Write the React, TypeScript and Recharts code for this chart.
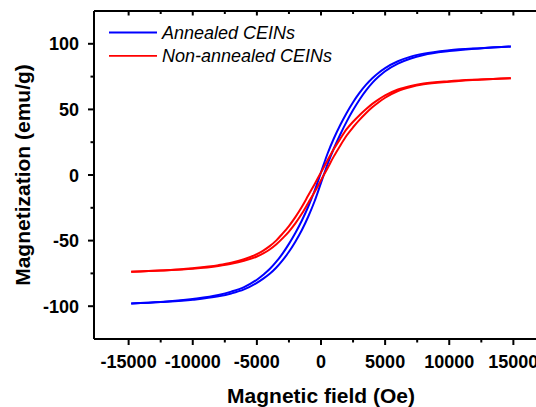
import React from 'react';
import { LineChart, Line, XAxis, YAxis, Legend } from 'recharts';

const fieldOe = [-14800, -12500, -10000, -8000, -7000, -6000, -5000, -4500, -4000, -3500, -3000, -2500, -2000, -1500, -1000, -500, 0, 500, 1000, 1500, 2000, 2500, 3000, 3500, 4000, 4500, 5000, 6000, 7000, 8000, 10000, 12500, 14800];

// descending branch (upper) and ascending branch (lower) of each loop, emu/g
const annealedUpper = [-97.9, -96.8, -94.5, -91.5, -88.9, -85.4, -79.8, -76, -71.7, -66.3, -59.9, -52.5, -44.2, -34.9, -24.2, -12, 2, 16, 27.8, 38.1, 47.3, 55.5, 62.6, 68.7, 73.8, 78, 81.5, 86.7, 90.2, 92.5, 95.1, 96.7, 97.9];
const annealedLower = [-97.9, -96.8, -95.1, -92.5, -90.3, -87.2, -82.2, -79, -75.3, -70.7, -65.1, -58.5, -50.8, -42.1, -31.8, -20, -6, 8, 20.2, 30.9, 40.7, 49.5, 57.4, 64.3, 70.2, 75, 79.1, 84.9, 88.8, 91.5, 94.5, 96.7, 97.9];
const nonAnnealedUpper = [-73.8, -72.8, -71.0, -68.7, -66.9, -64.2, -60.3, -57.6, -54.2, -50, -44.7, -38.9, -32.1, -24.4, -15.7, -7, 2, 11, 19.8, 27.6, 34.9, 40.6, 45.6, 50.1, 54.2, 57.7, 60.7, 65.2, 67.9, 69.7, 71.5, 72.8, 73.8];
const nonAnnealedLower = [-73.8, -72.8, -71.4, -69.3, -67.7, -65.4, -62.1, -59.8, -56.8, -53, -48.3, -43.1, -36.9, -29.6, -21.3, -13, -4, 5, 14.2, 22.4, 30.1, 36.4, 42, 47.1, 51.6, 55.5, 58.9, 64, 67.1, 69.1, 71.1, 72.8, 73.8];

const seriesNames = ['Annealed CEINs', 'Non-annealed CEINs'];
const seriesColors = ['#0000FF', '#FF0000'];

const xTicks = [-15000, -12500, -10000, -7500, -5000, -2500, 0, 2500, 5000, 7500, 10000, 12500, 15000];
const xMajorStep = 5000;
const yTicks = [-100, -75, -50, -25, 0, 25, 50, 75, 100];
const yMajorStep = 50;
const xDomain = [-17700, 17700];
const yDomain = [-125, 125];
const xTitle = 'Magnetic field (Oe)';
const yTitle = 'Magnetization (emu/g)';

const FONT = '"Liberation Sans", Arial, Helvetica, sans-serif';

const toPoints = (vals: number[]) => fieldOe.map((h, i) => ({ h, m: vals[i] }));

const XTickBottom = (props: any) => {
  const { x, y, payload } = props;
  const major = payload.value % xMajorStep === 0;
  return (
    <g>
      <line x1={x} x2={x} y1={y} y2={y + (major ? 6 : 3.5)} stroke="#000" strokeWidth={2} />
      {major && (
        <text x={x} y={y + 29} textAnchor="middle" fontFamily={FONT} fontWeight="bold" fontSize={18} fill="#000">
          {payload.value}
        </text>
      )}
    </g>
  );
};

const XTickTop = (props: any) => {
  const { x, y, payload } = props;
  const major = payload.value % xMajorStep === 0;
  return <line x1={x} x2={x} y1={y} y2={y + (major ? 4.5 : 3)} stroke="#000" strokeWidth={2} />;
};

const YTickLeft = (props: any) => {
  const { x, y, payload } = props;
  const major = payload.value % yMajorStep === 0;
  return (
    <g>
      <line x1={x} x2={x - (major ? 6 : 3.5)} y1={y} y2={y} stroke="#000" strokeWidth={2} />
      {major && (
        <text x={x - 15} y={y + 6.5} textAnchor="end" fontFamily={FONT} fontWeight="bold" fontSize={18} fill="#000">
          {payload.value}
        </text>
      )}
    </g>
  );
};

const XTitle = (props: any) => {
  const vb = props.viewBox || { x: 94, y: 339, width: 454, height: 68 };
  return (
    <text x={vb.x + vb.width / 2} y={vb.y + 64} textAnchor="middle" fontFamily={FONT} fontWeight="bold" fontSize={21} fill="#000">
      {xTitle}
    </text>
  );
};

const YTitle = (props: any) => {
  const vb = props.viewBox || { x: 0, y: 11, width: 94, height: 328 };
  const cx = 30;
  const cy = vb.y + vb.height / 2;
  return (
    <text x={cx} y={cy} transform={`rotate(-90 ${cx} ${cy})`} textAnchor="middle" fontFamily={FONT} fontWeight="bold" fontSize={21} fill="#000">
      {yTitle}
    </text>
  );
};

const LegendBox = () => (
  <svg width={420} height={70} style={{ display: 'block' }}>
    {seriesNames.map((name, i) => {
      const cy = 32.5 + i * 23.3;
      return (
        <g key={name}>
          <line x1={109} x2={157} y1={cy} y2={cy} stroke={seriesColors[i]} strokeWidth={1.8} />
          <text x={162} y={cy + 6.5} fontFamily={FONT} fontStyle="italic" fontSize={18} fill="#000">
            {name}
          </text>
        </g>
      );
    })}
  </svg>
);

export default function App() {
  return (
    <div style={{ position: 'absolute', left: 0, top: 0, width: 536, height: 407, overflow: 'hidden', background: '#fff' }}>
      <LineChart width={560} height={407} margin={{ top: 0, right: 12, bottom: 0, left: 0 }}>
        <XAxis
          type="number"
          dataKey="h"
          domain={xDomain}
          allowDataOverflow
          ticks={xTicks}
          interval={0}
          height={68}
          tickSize={0}
          tickMargin={0}
          tick={<XTickBottom />}
          tickLine={false}
          axisLine={{ stroke: '#000', strokeWidth: 2 }}
          label={<XTitle />}
        />
        <XAxis
          xAxisId="top"
          orientation="top"
          type="number"
          dataKey="h"
          domain={xDomain}
          allowDataOverflow
          ticks={xTicks}
          interval={0}
          height={11}
          tickSize={0}
          tickMargin={0}
          tick={<XTickTop />}
          tickLine={false}
          axisLine={{ stroke: '#000', strokeWidth: 2 }}
        />
        <YAxis
          type="number"
          domain={yDomain}
          allowDataOverflow
          ticks={yTicks}
          interval={0}
          width={94}
          tickSize={0}
          tickMargin={0}
          tick={<YTickLeft />}
          tickLine={false}
          axisLine={{ stroke: '#000', strokeWidth: 2 }}
          label={<YTitle />}
        />
        <Legend
          layout="vertical"
          align="center"
          verticalAlign="middle"
          wrapperStyle={{ left: 0, top: 0, width: 420, height: 70 }}
          content={<LegendBox />}
        />
        <Line data={toPoints(annealedUpper)} dataKey="m" name={seriesNames[0]} type="monotone" stroke={seriesColors[0]} strokeWidth={2} dot={false} activeDot={false} isAnimationActive={false} />
        <Line data={toPoints(annealedLower)} dataKey="m" name={seriesNames[0] + ' (ascending)'} legendType="none" type="monotone" stroke={seriesColors[0]} strokeWidth={2} dot={false} activeDot={false} isAnimationActive={false} />
        <Line data={toPoints(nonAnnealedUpper)} dataKey="m" name={seriesNames[1]} type="monotone" stroke={seriesColors[1]} strokeWidth={2} dot={false} activeDot={false} isAnimationActive={false} />
        <Line data={toPoints(nonAnnealedLower)} dataKey="m" name={seriesNames[1] + ' (ascending)'} legendType="none" type="monotone" stroke={seriesColors[1]} strokeWidth={2} dot={false} activeDot={false} isAnimationActive={false} />
      </LineChart>
    </div>
  );
}
